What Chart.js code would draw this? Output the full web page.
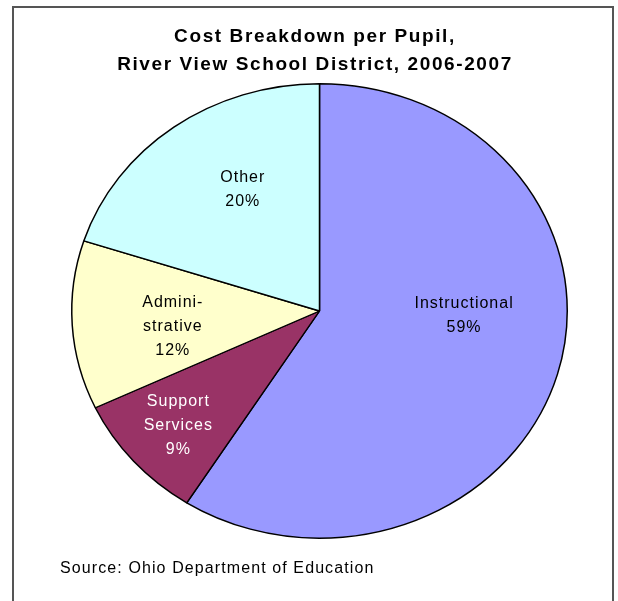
<!DOCTYPE html>
<html><head><meta charset="utf-8">
<script src="https://cdn.jsdelivr.net/npm/chart.js@4/dist/chart.umd.min.js"></script>
<style>html,body{margin:0;padding:0;background:#fff;overflow:hidden}</style>
</head><body>
<canvas id="c" width="618" height="601"></canvas>
<script>
// ---- data ----
const categories = ["Instructional", "Support Services", "Administrative", "Other"];
const labelLines = [["Instructional"], ["Support", "Services"], ["Admini-", "strative"], ["Other"]];
const percentValues = [59, 9, 12, 20];
const titleLines = ["Cost Breakdown per Pupil,", "River View School District, 2006-2007"];
const sourceNote = "Source: Ohio Department of Education";

// ---- style ----
const sliceColors = ["#9999FF", "#993366", "#FFFFCC", "#CCFFFF"];
const labelColors = ["#000000", "#FFFFFF", "#000000", "#000000"];
const Y_SQUASH = 227 / 247.5;
const labelRadius = [0.58, 0.765, 0.60, 0.62];
const labelAngleShift = [-14, 0, -3, 5.6];

const FONT = '"Liberation Sans", Arial, sans-serif';

const decor = {
  id: 'decor',
  beforeDraw(chart) {
    const ctx = chart.ctx;
    ctx.save();
    ctx.fillStyle = '#fff';
    ctx.fillRect(0, 0, chart.width, chart.height);
    ctx.strokeStyle = '#555555';
    ctx.lineWidth = 2;
    ctx.strokeRect(13, 7, 600, 640);
    ctx.fillStyle = '#000';
    ctx.textAlign = 'center';
    ctx.textBaseline = 'alphabetic';
    ctx.font = 'bold 19px ' + FONT;
    ctx.letterSpacing = '1.6px';
    ctx.fillText(titleLines[0], 315, 42);
    ctx.fillText(titleLines[1], 315, 70);
    ctx.font = '16px ' + FONT;
    ctx.letterSpacing = '1.1px';
    ctx.textAlign = 'left';
    ctx.fillText(sourceNote, 60, 573);
    ctx.restore();
  },
  beforeDatasetsDraw(chart) {
    const arc = chart.getDatasetMeta(0).data[0];
    const ctx = chart.ctx;
    ctx.save();
    ctx.translate(arc.x, arc.y);
    ctx.scale(1, Y_SQUASH);
    ctx.translate(-arc.x, -arc.y);
  },
  afterDatasetsDraw(chart) {
    const ctx = chart.ctx;
    ctx.restore();
    const meta = chart.getDatasetMeta(0);
    ctx.save();
    ctx.font = '16px ' + FONT;
    ctx.letterSpacing = '1px';
    ctx.textAlign = 'center';
    ctx.textBaseline = 'middle';
    meta.data.forEach((a, i) => {
      const p = a.getProps(['x', 'y', 'startAngle', 'endAngle', 'outerRadius'], true);
      const mid = (p.startAngle + p.endAngle) / 2 + labelAngleShift[i] * Math.PI / 180;
      const r = p.outerRadius * labelRadius[i];
      const px = p.x + Math.cos(mid) * r;
      const py = p.y + Math.sin(mid) * r * Y_SQUASH;
      const lines = labelLines[i].concat([percentValues[i] + '%']);
      const lh = 24;
      const y0 = py - (lines.length - 1) * lh / 2;
      ctx.fillStyle = labelColors[i];
      lines.forEach((t, k) => ctx.fillText(t, px + 1, y0 + k * lh));
    });
    ctx.restore();
  }
};

new Chart(document.getElementById('c'), {
  type: 'pie',
  data: {
    labels: categories,
    datasets: [{
      data: percentValues,
      backgroundColor: sliceColors,
      borderColor: '#000000',
      borderWidth: 1.5
    }]
  },
  options: {
    responsive: false,
    animation: false,
    layout: { padding: { left: 71, right: 50, top: 62.5, bottom: 41.5 } },
    plugins: { legend: { display: false }, tooltip: { enabled: false }, title: { display: false } }
  },
  plugins: [decor]
});
</script>
</body></html>
